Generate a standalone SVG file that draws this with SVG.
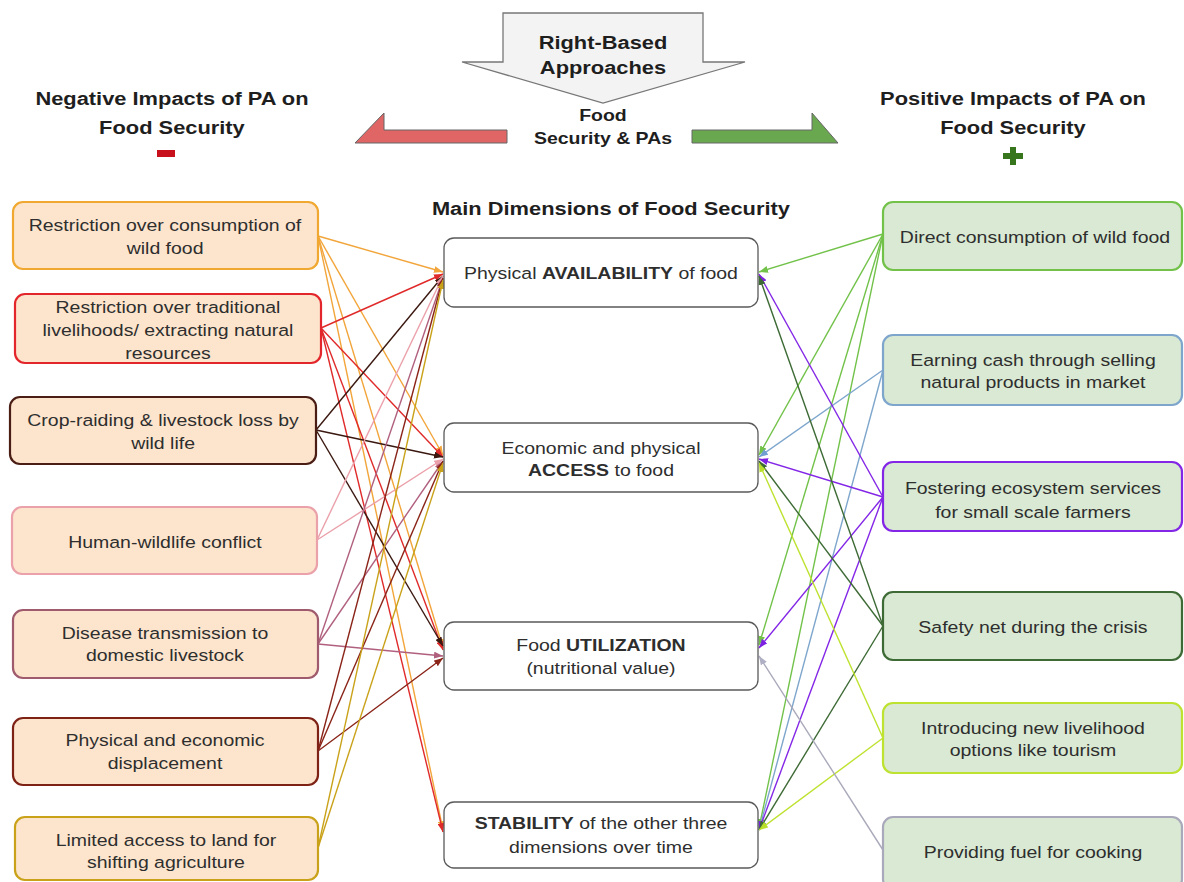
<svg xmlns="http://www.w3.org/2000/svg" width="1184" height="882" viewBox="0 0 1184 882">
<style>
text{font-family:"Liberation Sans",Arial,sans-serif;fill:#2e2e2e;text-anchor:middle;transform-box:fill-box;transform-origin:center;transform:scaleX(1.18);}
.b{font-size:16.5px;}
.h{font-size:19px;font-weight:bold;fill:#1e1e1e;transform:scaleX(1.15);}
.s{font-size:16.5px;font-weight:bold;fill:#1e1e1e;}
.bold{font-weight:bold;}
.lbox{fill:#fde5cd;stroke-width:2.2;}
.rbox{fill:#d9e9d3;stroke-width:2.2;}
.cbox{fill:#ffffff;stroke:#5a5a5a;stroke-width:1.3;}
.c{fill:none;stroke-width:1.4;}
</style>
<defs>
<marker id="mL1" markerUnits="userSpaceOnUse" markerWidth="9" markerHeight="7" refX="9" refY="3.5" orient="auto"><path d="M0,0 L9,3.5 L0,7 z" fill="#f2a53a"/></marker>
<marker id="mL2" markerUnits="userSpaceOnUse" markerWidth="9" markerHeight="7" refX="9" refY="3.5" orient="auto"><path d="M0,0 L9,3.5 L0,7 z" fill="#e02a2a"/></marker>
<marker id="mL3" markerUnits="userSpaceOnUse" markerWidth="9" markerHeight="7" refX="9" refY="3.5" orient="auto"><path d="M0,0 L9,3.5 L0,7 z" fill="#3a1810"/></marker>
<marker id="mL4" markerUnits="userSpaceOnUse" markerWidth="9" markerHeight="7" refX="9" refY="3.5" orient="auto"><path d="M0,0 L9,3.5 L0,7 z" fill="#eba0aa"/></marker>
<marker id="mL5" markerUnits="userSpaceOnUse" markerWidth="9" markerHeight="7" refX="9" refY="3.5" orient="auto"><path d="M0,0 L9,3.5 L0,7 z" fill="#b0607e"/></marker>
<marker id="mL6" markerUnits="userSpaceOnUse" markerWidth="9" markerHeight="7" refX="9" refY="3.5" orient="auto"><path d="M0,0 L9,3.5 L0,7 z" fill="#8a2418"/></marker>
<marker id="mL7" markerUnits="userSpaceOnUse" markerWidth="9" markerHeight="7" refX="9" refY="3.5" orient="auto"><path d="M0,0 L9,3.5 L0,7 z" fill="#c9a21a"/></marker>
<marker id="mR1" markerUnits="userSpaceOnUse" markerWidth="9" markerHeight="7" refX="9" refY="3.5" orient="auto"><path d="M0,0 L9,3.5 L0,7 z" fill="#72c24a"/></marker>
<marker id="mR2" markerUnits="userSpaceOnUse" markerWidth="9" markerHeight="7" refX="9" refY="3.5" orient="auto"><path d="M0,0 L9,3.5 L0,7 z" fill="#6f9fd0"/></marker>
<marker id="mR3" markerUnits="userSpaceOnUse" markerWidth="9" markerHeight="7" refX="9" refY="3.5" orient="auto"><path d="M0,0 L9,3.5 L0,7 z" fill="#7d22e0"/></marker>
<marker id="mR4" markerUnits="userSpaceOnUse" markerWidth="9" markerHeight="7" refX="9" refY="3.5" orient="auto"><path d="M0,0 L9,3.5 L0,7 z" fill="#3d6a35"/></marker>
<marker id="mR5" markerUnits="userSpaceOnUse" markerWidth="9" markerHeight="7" refX="9" refY="3.5" orient="auto"><path d="M0,0 L9,3.5 L0,7 z" fill="#b8e02a"/></marker>
<marker id="mR6" markerUnits="userSpaceOnUse" markerWidth="9" markerHeight="7" refX="9" refY="3.5" orient="auto"><path d="M0,0 L9,3.5 L0,7 z" fill="#b0b0c4"/></marker>
</defs>
<rect width="1184" height="882" fill="#ffffff"/>

<g id="top-arrow">
<polygon points="503,13 703,13 703,62 745,62 603,103 462,62 503,62" fill="#f3f3f3" stroke="#777" stroke-width="1.3"/>
<text class="h" x="603" y="49">Right-Based</text>
<text class="h" x="603" y="74">Approaches</text>
</g>
<g id="center-label">
<text class="s" x="603" y="121">Food</text>
<text class="s" x="603" y="144">Security &amp; PAs</text>
</g>
<g id="red-arrow">
<polygon points="355,143 384,113 384,130 507,130 507,143" fill="#e06666" stroke="#666" stroke-width="1"/>
</g>
<g id="green-arrow">
<polygon points="692,130 812,130 812,113 838,143 692,143" fill="#6aa84f" stroke="#666" stroke-width="1"/>
</g>

<g id="neg-header">
<text class="h" x="172" y="105">Negative Impacts of PA on</text>
<text class="h" x="172" y="134">Food Security</text>
<rect x="157" y="150" width="18" height="7" fill="#c8101c"/>
</g>
<g id="pos-header">
<text class="h" x="1013" y="105">Positive Impacts of PA on</text>
<text class="h" x="1013" y="134">Food Security</text>
<path d="M1010,147 h6 v6 h7 v6 h-7 v6 h-6 v-6 h-7 v-6 h7 z" fill="#38761d"/>
</g>
<g id="dim-header">
<text class="h" x="611" y="215">Main Dimensions of Food Security</text>
</g>

<g id="connectors">
<path class="c" stroke="#f2a53a" marker-end="url(#mL1)" d="M318,236 L443,272"/>
<path class="c" stroke="#f2a53a" marker-end="url(#mL1)" d="M318,236 L443,455"/>
<path class="c" stroke="#f2a53a" marker-end="url(#mL1)" d="M318,236 L443,648"/>
<path class="c" stroke="#f2a53a" marker-end="url(#mL1)" d="M318,236 L443,830"/>
<path class="c" stroke="#e02a2a" marker-end="url(#mL2)" d="M321,328 L443,274"/>
<path class="c" stroke="#e02a2a" marker-end="url(#mL2)" d="M321,328 L443,457"/>
<path class="c" stroke="#e02a2a" marker-end="url(#mL2)" d="M321,328 L443,650"/>
<path class="c" stroke="#e02a2a" marker-end="url(#mL2)" d="M321,328 L443,832"/>
<path class="c" stroke="#3a1810" marker-end="url(#mL3)" d="M316,430 L443,276"/>
<path class="c" stroke="#3a1810" marker-end="url(#mL3)" d="M316,430 L443,457"/>
<path class="c" stroke="#3a1810" marker-end="url(#mL3)" d="M316,430 L443,646"/>
<path class="c" stroke="#eba0aa" marker-end="url(#mL4)" d="M317,540 L443,276"/>
<path class="c" stroke="#eba0aa" marker-end="url(#mL4)" d="M317,540 L443,459"/>
<path class="c" stroke="#b0607e" marker-end="url(#mL5)" d="M318,644 L443,278"/>
<path class="c" stroke="#b0607e" marker-end="url(#mL5)" d="M318,644 L443,461"/>
<path class="c" stroke="#b0607e" marker-end="url(#mL5)" d="M318,644 L443,656"/>
<path class="c" stroke="#8a2418" marker-end="url(#mL6)" d="M318,751 L443,278"/>
<path class="c" stroke="#8a2418" marker-end="url(#mL6)" d="M318,751 L443,461"/>
<path class="c" stroke="#8a2418" marker-end="url(#mL6)" d="M318,751 L443,658"/>
<path class="c" stroke="#c9a21a" marker-end="url(#mL7)" d="M318,848 L443,280"/>
<path class="c" stroke="#c9a21a" marker-end="url(#mL7)" d="M318,848 L443,463"/>

<path class="c" stroke="#72c24a" marker-end="url(#mR1)" d="M883,234 L759,272"/>
<path class="c" stroke="#72c24a" marker-end="url(#mR1)" d="M883,234 L759,455"/>
<path class="c" stroke="#72c24a" marker-end="url(#mR1)" d="M883,234 L759,645"/>
<path class="c" stroke="#72c24a" marker-end="url(#mR1)" d="M883,234 L759,828"/>
<path class="c" stroke="#7ea6cc" marker-end="url(#mR2)" d="M883,370 L759,457"/>
<path class="c" stroke="#7ea6cc" marker-end="url(#mR2)" d="M883,370 L759,830"/>
<path class="c" stroke="#8326e6" marker-end="url(#mR3)" d="M883,497 L759,274"/>
<path class="c" stroke="#8326e6" marker-end="url(#mR3)" d="M883,497 L759,459"/>
<path class="c" stroke="#8326e6" marker-end="url(#mR3)" d="M883,497 L759,648"/>
<path class="c" stroke="#8326e6" marker-end="url(#mR3)" d="M883,497 L759,830"/>
<path class="c" stroke="#3d6a35" marker-end="url(#mR4)" d="M883,626 L759,276"/>
<path class="c" stroke="#3d6a35" marker-end="url(#mR4)" d="M883,626 L759,461"/>
<path class="c" stroke="#3d6a35" marker-end="url(#mR4)" d="M883,626 L759,830"/>
<path class="c" stroke="#bde22f" marker-end="url(#mR5)" d="M883,738 L759,463"/>
<path class="c" stroke="#bde22f" marker-end="url(#mR5)" d="M883,738 L759,830"/>
<path class="c" stroke="#a9a9bb" marker-end="url(#mR6)" d="M883,850 L759,656"/>
</g>

<g id="L1"><rect class="lbox" x="13" y="202" width="305" height="67" rx="10" stroke="#f0a830"/>
<text class="b" x="165" y="231">Restriction over consumption of</text><text class="b" x="165" y="254">wild food</text></g>
<g id="L2"><rect class="lbox" x="15" y="294" width="306" height="69" rx="10" stroke="#e3262b"/>
<text class="b" x="168" y="313">Restriction over traditional</text><text class="b" x="168" y="336">livelihoods/ extracting natural</text><text class="b" x="168" y="359">resources</text></g>
<g id="L3"><rect class="lbox" x="10" y="397" width="306" height="67" rx="10" stroke="#4a1e14"/>
<text class="b" x="163" y="426">Crop-raiding &amp; livestock loss by</text><text class="b" x="163" y="449">wild life</text></g>
<g id="L4"><rect class="lbox" x="12" y="507" width="305" height="67" rx="10" stroke="#eba1aa"/>
<text class="b" x="165" y="548">Human-wildlife conflict</text></g>
<g id="L5"><rect class="lbox" x="13" y="610" width="305" height="68" rx="10" stroke="#a05a6e"/>
<text class="b" x="165" y="639">Disease transmission to</text><text class="b" x="165" y="661">domestic livestock</text></g>
<g id="L6"><rect class="lbox" x="13" y="718" width="305" height="67" rx="10" stroke="#7e2216"/>
<text class="b" x="165" y="746">Physical and economic</text><text class="b" x="165" y="769">displacement</text></g>
<g id="L7"><rect class="lbox" x="15" y="817" width="303" height="63" rx="10" stroke="#c9a21a"/>
<text class="b" x="166" y="846">Limited access to land for</text><text class="b" x="166" y="868">shifting agriculture</text></g>

<g id="C1"><rect class="cbox" x="444" y="238" width="314" height="69" rx="10"/>
<text class="b" x="601" y="279">Physical <tspan class="bold">AVAILABILITY</tspan> of food</text></g>
<g id="C2"><rect class="cbox" x="444" y="423" width="314" height="69" rx="10"/>
<text class="b" x="601" y="454">Economic and physical</text><text class="b" x="601" y="476"><tspan class="bold">ACCESS</tspan> to food</text></g>
<g id="C3"><rect class="cbox" x="444" y="622" width="314" height="68" rx="10"/>
<text class="b" x="601" y="651">Food <tspan class="bold">UTILIZATION</tspan></text><text class="b" x="601" y="674">(nutritional value)</text></g>
<g id="C4"><rect class="cbox" x="444" y="802" width="314" height="66" rx="10"/>
<text class="b" x="601" y="829"><tspan class="bold">STABILITY</tspan> of the other three</text><text class="b" x="601" y="853">dimensions over time</text></g>

<g id="R1"><rect class="rbox" x="883" y="202" width="299" height="68" rx="10" stroke="#72c24a"/>
<text class="b" x="1035" y="243">Direct consumption of wild food</text></g>
<g id="R2"><rect class="rbox" x="883" y="335" width="299" height="70" rx="10" stroke="#7ea6cc"/>
<text class="b" x="1033" y="366">Earning cash through selling</text><text class="b" x="1033" y="388">natural products in market</text></g>
<g id="R3"><rect class="rbox" x="883" y="462" width="299" height="69" rx="10" stroke="#8326e6"/>
<text class="b" x="1033" y="494">Fostering ecosystem services</text><text class="b" x="1033" y="518">for small scale farmers</text></g>
<g id="R4"><rect class="rbox" x="883" y="592" width="299" height="68" rx="10" stroke="#3d6a35"/>
<text class="b" x="1033" y="633">Safety net during the crisis</text></g>
<g id="R5"><rect class="rbox" x="883" y="703" width="299" height="70" rx="10" stroke="#bde22f"/>
<text class="b" x="1033" y="734">Introducing new livelihood</text><text class="b" x="1033" y="756">options like tourism</text></g>
<g id="R6"><rect class="rbox" x="883" y="817" width="299" height="72" rx="10" stroke="#a9a9bb"/>
<text class="b" x="1033" y="858">Providing fuel for cooking</text></g>
</svg>
